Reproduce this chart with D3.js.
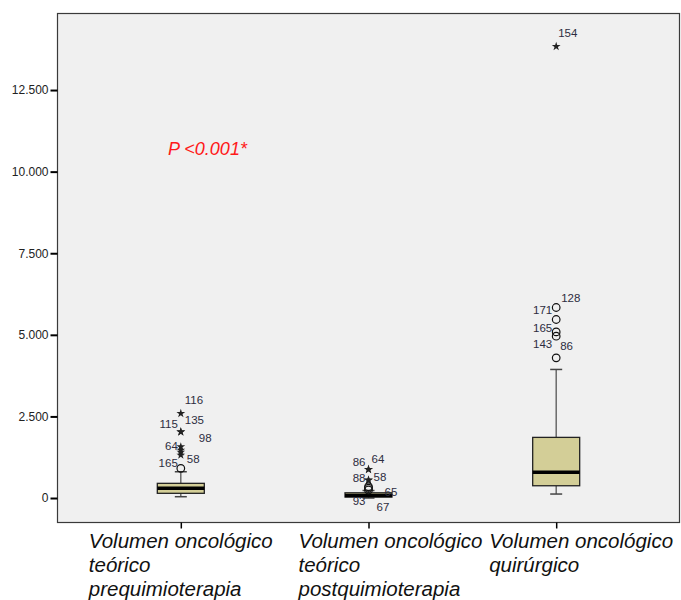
<!DOCTYPE html>
<html>
<head>
<meta charset="utf-8">
<script src="https://cdn.jsdelivr.net/npm/d3@7"></script>
<style>
  body { margin: 0; background: #fff; }
  svg { display: block; font-family: "Liberation Sans", Arial, sans-serif; }
</style>
</head>
<body>
<div id="chart"></div>
<script>
// categories and their wrapped labels
const categories = ["pre", "post", "quir"];
const categoryLabels = [
  ["Volumen oncológico", "teórico", "prequimioterapia"],
  ["Volumen oncológico", "teórico", "postquimioterapia"],
  ["Volumen oncológico", "quirúrgico"]
];

// box stats: [lower whisker, q1, median, q3, upper whisker]
const boxStats = [
  [40, 144, 297, 450, 805],
  [0, 30, 80, 160, 230],
  [122, 376, 787, 1858, 3939]
];

// outliers per category: case id, value, kind (o = mild, * = extreme)
const outliersPre = [
  { id: "116", value: 2592, kind: "*" },
  { id: "135", value: 2029, kind: "*" },
  { id: "115", value: 2025, kind: "*" },
  { id: "98", value: 1570, kind: "*" },
  { id: "64", value: 1469, kind: "*" },
  { id: "", value: 1408, kind: "*" },
  { id: "58", value: 1316, kind: "*" },
  { id: "165", value: 909, kind: "o" }
];
const outliersPost = [
  { id: "64", value: 878, kind: "*" },
  { id: "86", value: 875, kind: "*" },
  { id: "58", value: 551, kind: "*" },
  { id: "88", value: 548, kind: "*" },
  { id: "65", value: 346, kind: "o" },
  { id: "93", value: 300, kind: "o" },
  { id: "67", value: 245, kind: "o" }
];
const outliersQuir = [
  { id: "154", value: 13835, kind: "*" },
  { id: "128", value: 5837, kind: "o" },
  { id: "171", value: 5470, kind: "o" },
  { id: "165", value: 5090, kind: "o" },
  { id: "143", value: 4958, kind: "o" },
  { id: "86", value: 4294, kind: "o" }
];
const outliers = [outliersPre, outliersPost, outliersQuir];

const yTicks = [0, 2500, 5000, 7500, 10000, 12500];
const pLabel = "P <0.001*";

// label placement next to each outlier (dx, dy, side)
const labelPlace = [
  { "116": [4, -13, "r"], "135": [4, -12, "r"], "115": [-3, -8, "l"], "98": [18, -9, "r"],
    "64": [-3, -4, "l"], "58": [6, 4, "r"], "165": [-3, -5, "l"] },
  { "64": [3, -10, "r"], "86": [-3, -7, "l"], "58": [5, -3, "r"], "88": [-3, -2, "l"],
    "65": [16, 5, "r"], "93": [-3, 13, "l"], "67": [8, 17, "r"] },
  { "154": [2, -13, "r"], "128": [5, -10, "r"], "171": [-4, -10, "l"], "165": [-4, -4, "l"],
    "143": [-4, 8, "l"], "86": [4, -12, "r"] }
];
const labelShift = [-92, -70, -67];

const width = 681, height = 600;
const plot = { left: 57.5, right: 679.5, top: 13.5, bottom: 522.5 };

const svg = d3.select("#chart").append("svg")
  .attr("width", width).attr("height", height);

svg.append("rect").attr("width", width).attr("height", height).attr("fill", "#fff");

const x = d3.scalePoint()
  .domain(categories)
  .range([plot.left, plot.right])
  .padding(0.657);

const y = d3.scaleLinear()
  .domain([-750, 14845])
  .range([plot.bottom, plot.top]);

// plot background / frame
svg.append("rect")
  .attr("x", plot.left).attr("y", plot.top)
  .attr("width", plot.right - plot.left).attr("height", plot.bottom - plot.top)
  .attr("fill", "#f0f0f0")
  .attr("stroke", "#3a3a3a").attr("stroke-width", 1.2);

// y axis
const locale = d3.formatLocale({ decimal: ",", thousands: ".", grouping: [3], currency: ["", ""] });
const fmt = locale.format(",d");

const yAxis = svg.append("g")
  .attr("transform", `translate(${plot.left},0)`)
  .call(d3.axisLeft(y).tickValues(yTicks).tickSize(7).tickPadding(2).tickFormat(fmt));
yAxis.select(".domain").remove();
yAxis.selectAll("line").attr("stroke", "#000").attr("stroke-width", 2);
yAxis.selectAll("text").attr("fill", "#222").style("font-size", "12px");

// x axis ticks
const xAxis = svg.append("g")
  .attr("transform", `translate(0,${plot.bottom})`)
  .call(d3.axisBottom(x).tickSize(6).tickFormat(""));
xAxis.select(".domain").remove();
xAxis.selectAll("line").attr("stroke", "#000").attr("stroke-width", 1.5);

// category labels
categories.forEach((c, i) => {
  const t = svg.append("text")
    .attr("x", x(c) + labelShift[i])
    .attr("y", 548)
    .attr("fill", "#111")
    .style("font-size", "20.5px")
    .style("font-style", "italic");
  categoryLabels[i].forEach((line, j) => {
    t.append("tspan")
      .attr("x", x(c) + labelShift[i])
      .attr("dy", j === 0 ? 0 : 24)
      .text(line);
  });
});

// boxes
const boxW = 47, capW = 12;
categories.forEach((c, i) => {
  const [lo, q1, med, q3, hi] = boxStats[i];
  const cx = x(c);
  const g = svg.append("g");

  g.append("line")
    .attr("x1", cx).attr("x2", cx)
    .attr("y1", y(hi)).attr("y2", y(q3))
    .attr("stroke", "#555").attr("stroke-width", 1.3);
  g.append("line")
    .attr("x1", cx).attr("x2", cx)
    .attr("y1", y(q1)).attr("y2", y(lo))
    .attr("stroke", "#555").attr("stroke-width", 1.3);
  [lo, hi].forEach(v => {
    g.append("line")
      .attr("x1", cx - capW / 2).attr("x2", cx + capW / 2)
      .attr("y1", y(v)).attr("y2", y(v))
      .attr("stroke", "#444").attr("stroke-width", 1.5);
  });

  g.append("rect")
    .attr("x", cx - boxW / 2).attr("y", y(q3))
    .attr("width", boxW).attr("height", Math.max(1, y(q1) - y(q3)))
    .attr("fill", "#d3ce97")
    .attr("stroke", "#222").attr("stroke-width", 1.3);

  g.append("line")
    .attr("x1", cx - boxW / 2).attr("x2", cx + boxW / 2)
    .attr("y1", y(med)).attr("y2", y(med))
    .attr("stroke", "#000").attr("stroke-width", 3.5);

  // outliers
  const star = d3.symbol().type(d3.symbolStar).size(24);
  outliers[i].forEach(d => {
    if (d.kind === "*") {
      g.append("path")
        .attr("d", star())
        .attr("transform", `translate(${cx},${y(d.value)})`)
        .attr("fill", "#222");
    } else {
      g.append("circle")
        .attr("cx", cx).attr("cy", y(d.value)).attr("r", 3.8)
        .attr("fill", "none")
        .attr("stroke", "#111").attr("stroke-width", 1.2);
    }
    if (d.id && labelPlace[i][d.id]) {
      const [dx, dy, side] = labelPlace[i][d.id];
      g.append("text")
        .attr("x", cx + dx)
        .attr("y", y(d.value) + dy)
        .attr("dy", "0.35em")
        .attr("text-anchor", side === "l" ? "end" : "start")
        .attr("fill", "#2d2d40")
        .style("font-size", "11.5px")
        .text(d.id);
    }
  });
});

// p-value annotation
svg.append("text")
  .attr("x", 168).attr("y", 155)
  .attr("fill", "#ff1a1a")
  .style("font-size", "18px")
  .style("font-style", "italic")
  .text(pLabel);
</script>
</body>
</html>
